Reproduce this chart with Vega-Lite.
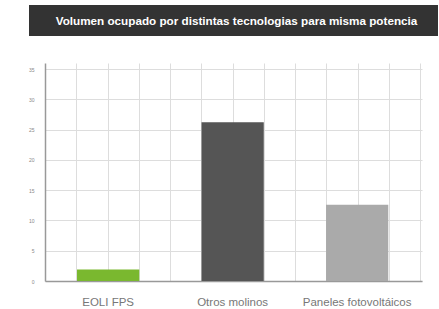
{
  "$schema": "https://vega.github.io/schema/vega-lite/v6.json",
  "padding": {"left": 28, "top": 5, "right": 0, "bottom": 0},
  "background": "white",
  "spacing": 27,
  "center": true,
  "datasets": {
    "bars": [
      {"tecnologia": "EOLI FPS", "volumen": 1.9},
      {"tecnologia": "Otros molinos", "volumen": 26.2},
      {"tecnologia": "Paneles fotovoltáicos", "volumen": 12.6}
    ],
    "banner": [
      {"titulo": "Volumen ocupado por distintas tecnologias para misma potencia"}
    ]
  },
  "vconcat": [
    {
      "width": 409,
      "height": 31,
      "view": {"fill": "#333333", "stroke": null},
      "data": {"name": "banner"},
      "mark": {"type": "text", "color": "white", "font": "Liberation Sans", "fontWeight": "bold", "fontSize": 11.7, "align": "center", "baseline": "middle", "dx": 3},
      "encoding": {"text": {"field": "titulo", "type": "nominal"}}
    },
    {
      "width": 377,
      "height": 218,
      "view": {"stroke": null},
      "data": {"name": "bars"},
      "layer": [
        {
          "mark": {"type": "point", "opacity": 0},
          "encoding": {
            "x": {
              "datum": 0,
              "type": "quantitative",
              "scale": {"domain": [0, 12.064], "nice": false, "zero": false},
              "axis": {"orient": "top", "values": [1,2,3,4,5,6,7,8,9,10,11,12], "grid": true, "gridColor": "#dddddd", "gridWidth": 1, "labels": false, "ticks": false, "domain": false, "title": null}
            }
          }
        },
        {
          "mark": {"type": "bar"},
          "encoding": {
            "x": {
              "field": "tecnologia",
              "type": "nominal",
              "sort": null,
              "scale": {"paddingInner": 0.5, "paddingOuter": 0.264, "align": 0.487},
              "axis": {"labelAngle": 0, "grid": false, "ticks": false, "domainColor": "#999999", "domainWidth": 1.5, "labelColor": "#777777", "labelFont": "Liberation Sans", "labelFontSize": 11.5, "labelPadding": 15, "title": null}
            },
            "y": {
              "field": "volumen",
              "type": "quantitative",
              "scale": {"domain": [0, 36], "nice": false},
              "axis": {"values": [0,5,10,15,20,25,30,35], "grid": true, "gridColor": "#dddddd", "ticks": false, "domainColor": "#999999", "domainWidth": 1.5, "labelColor": "#888888", "labelFontSize": 5, "labelPadding": 11, "title": null}
            },
            "color": {
              "field": "tecnologia",
              "type": "nominal",
              "scale": {"domain": ["EOLI FPS", "Otros molinos", "Paneles fotovoltáicos"], "range": ["#7ab82f", "#555555", "#aaaaaa"]},
              "legend": null
            }
          }
        }
      ],
      "resolve": {"scale": {"x": "independent"}, "axis": {"x": "independent"}}
    }
  ]
}
